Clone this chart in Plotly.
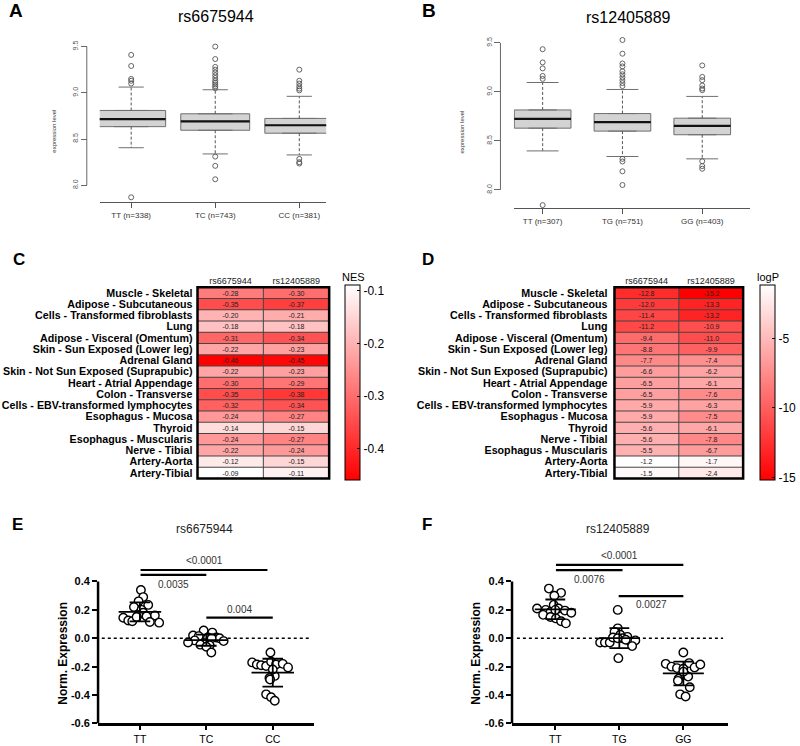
import plotly.graph_objects as go
import numpy as np

W, H = 800, 746

# ---------------- Panel A / B : box-plot summaries ----------------
A_title = "rs6675944"
A_labels = ["TT (n=338)", "TC (n=743)", "CC (n=381)"]
A_q1 = [8.634, 8.595, 8.563]
A_med = [8.716, 8.691, 8.649]
A_q3 = [8.809, 8.773, 8.723]
A_lo = [8.406, 8.339, 8.328]
A_hi = [9.062, 9.033, 8.962]
A_out = [
    [9.41, 9.29, 9.15, 9.13, 9.10, 7.87],
    [9.50, 9.365, 9.28, 9.25, 9.22, 9.19, 9.16, 9.13, 9.11, 9.09, 9.07, 9.05, 8.31, 8.21, 8.065],
    [9.25, 9.13, 9.10, 9.07, 9.045, 9.026, 8.285, 8.25, 8.235],
]

B_title = "rs12405889"
B_labels = ["TT (n=307)", "TG (n=751)", "GG (n=403)"]
B_q1 = [8.630, 8.600, 8.563]
B_med = [8.725, 8.691, 8.654]
B_q3 = [8.816, 8.779, 8.732]
B_lo = [8.398, 8.341, 8.317]
B_hi = [9.096, 9.025, 8.954]
B_out = [
    [9.436, 9.301, 9.240, 9.163, 9.133, 7.845],
    [9.53, 9.39, 9.29, 9.26, 9.21, 9.18, 9.15, 9.12, 9.09, 9.06, 8.317, 8.29, 8.19, 8.05],
    [9.27, 9.153, 9.12, 9.065, 9.035, 9.018, 8.293, 8.243, 8.216],
]

# ---------------- Panel C / D : heatmaps ----------------
snps = ["rs6675944", "rs12405889"]
C_tissues = ["Muscle - Skeletal", "Adipose - Subcutaneous", "Cells - Transformed fibroblasts", "Lung",
             "Adipose - Visceral (Omentum)", "Skin - Sun Exposed (Lower leg)", "Adrenal Gland",
             "Skin - Not Sun Exposed (Suprapubic)", "Heart - Atrial Appendage", "Colon - Transverse",
             "Cells - EBV-transformed lymphocytes", "Esophagus - Mucosa", "Thyroid",
             "Esophagus - Muscularis", "Nerve - Tibial", "Artery-Aorta", "Artery-Tibial"]
C_nes_rs6675944 = [-0.28, -0.35, -0.20, -0.18, -0.31, -0.22, -0.46, -0.22, -0.30, -0.35, -0.32,
                   -0.24, -0.14, -0.24, -0.22, -0.12, -0.09]
C_nes_rs12405889 = [-0.30, -0.37, -0.21, -0.18, -0.34, -0.23, -0.45, -0.23, -0.29, -0.38, -0.34,
                    -0.27, -0.15, -0.27, -0.24, -0.15, -0.11]
C_ticks = [-0.1, -0.2, -0.3, -0.4]

D_tissues = ["Muscle - Skeletal", "Adipose - Subcutaneous", "Cells - Transformed fibroblasts", "Lung",
             "Adipose - Visceral (Omentum)", "Skin - Sun Exposed (Lower leg)", "Adrenal Gland",
             "Skin - Not Sun Exposed (Suprapubic)", "Heart - Atrial Appendage", "Colon - Transverse",
             "Cells - EBV-transformed lymphocytes", "Esophagus - Mucosa", "Thyroid", "Nerve - Tibial",
             "Esophagus - Muscularis", "Artery-Aorta", "Artery-Tibial"]
D_logp_rs6675944 = [-12.8, -12.0, -11.4, -11.2, -9.4, -8.8, -7.7, -6.6, -6.5, -6.5, -5.9, -5.9,
                    -5.6, -5.6, -5.5, -1.2, -1.5]
D_logp_rs12405889 = [-15.2, -13.3, -13.2, -10.9, -11.0, -9.9, -7.4, -6.2, -6.1, -7.6, -6.3, -7.5,
                     -6.1, -7.8, -6.7, -1.7, -2.4]
D_ticks = [-5, -10, -15]

# ---------------- Panel E / F : dot plots ----------------
E_title = "rs6675944"
E_groups = ["TT", "TC", "CC"]
E_TT = [0.34, 0.29, 0.26, 0.235, 0.22, 0.20, 0.18, 0.165, 0.16, 0.155, 0.145, 0.125, 0.12, 0.115, 0.11, 0.15]
E_TT_dx = [0.015, 0.05, -0.02, 0.125, -0.09, 0.025, 0.05, -0.025, 0.225, 0.10, -0.25, -0.175, -0.115, 0.15, 0.29, -0.05]
E_TC = [0.055, 0.04, 0.02, 0.015, 0.005, 0.005, 0.0, 0.0, -0.015, -0.02, -0.03, -0.035, -0.045, -0.05, -0.06, -0.10]
E_TC_dx = [-0.04, 0.09, -0.2, -0.115, 0.025, 0.15, 0.2, 0.08, -0.175, 0.26, -0.275, -0.025, -0.09, 0.05, 0.0, 0.075]
E_CC = [-0.10, -0.17, -0.185, -0.19, -0.195, -0.165, -0.185, -0.18, -0.205, -0.265, -0.28, -0.395, -0.415, -0.44, -0.29, -0.22]
E_CC_dx = [-0.035, -0.31, -0.24, -0.175, -0.1, -0.025, 0.05, 0.15, 0.23, 0.03, -0.05, -0.1, -0.025, 0.03, -0.04, 0.0]
E_sig = [(0.01, 1.92, 0.481, "<0.0001", 0.545), (0.01, 1.0, 0.446, "0.0035", 0.376), (1.0, 2.0, 0.146, "0.004", 0.205)]

F_title = "rs12405889"
F_groups = ["TT", "TG", "GG"]
F_TT = [0.35, 0.32, 0.30, 0.235, 0.21, 0.21, 0.20, 0.195, 0.185, 0.18, 0.165, 0.15, 0.14, 0.12, 0.105, 0.20]
F_TT_dx = [-0.1, 0.09, -0.015, -0.025, -0.285, 0.05, -0.15, 0.15, -0.075, 0.25, -0.19, -0.075, 0.01, 0.09, 0.165, 0.0]
F_TG = [0.20, 0.07, 0.045, 0.025, 0.01, -0.03, -0.03, -0.03, 0.0, -0.025, -0.015, -0.055, -0.14, 0.005, -0.01, 0.0]
F_TG_dx = [-0.025, -0.025, -0.075, 0.015, 0.125, -0.3, -0.225, -0.15, 0.05, 0.175, 0.25, 0.2, -0.015, -0.1, 0.1, -0.025]
F_GG = [-0.10, -0.18, -0.20, -0.21, -0.175, -0.205, -0.185, -0.215, -0.285, -0.255, -0.27, -0.30, -0.345, -0.395, -0.41, -0.235]
F_GG_dx = [0.0, -0.275, -0.185, -0.1, 0.09, 0.175, 0.265, 0.0, -0.075, 0.025, 0.075, -0.085, 0.1, -0.05, 0.035, 0.0]
F_sig = [(0.01, 2.0, 0.517, "<0.0001", 0.583), (0.01, 1.05, 0.48, "0.0076", 0.417), (0.99, 2.0, 0.297, "0.0027", 0.237)]

EF_yticks = [-0.6, -0.4, -0.2, 0.0, 0.2, 0.4]
EF_yrange = [-0.6, 0.62]

FONT = "Liberation Sans, Arial, sans-serif"


def dx(a, b):
    return [a / W, b / W]


def dy(top, bottom):
    return [1 - bottom / H, 1 - top / H]


fig = go.Figure()
shapes = []
annotations = []


def ann(text, x, y, size, bold=False, color="black", angle=0, xref="paper", yref="paper"):
    if xref == "paper":
        x = x / W
    if yref == "paper":
        y = 1 - y / H
    annotations.append(dict(text=text, x=x, y=y, xref=xref, yref=yref, showarrow=False,
                            xanchor="center", yanchor="middle", textangle=angle,
                            font=dict(size=size, color=color, family=FONT, weight="bold" if bold else "normal")))


# ---------- box panels ----------
def box_panel(ax, q1, med, q3, lo, hi, outs, bw, cw):
    xa, ya = "x" + ax, "y" + ax
    pos = [1, 2, 3]
    fig.add_trace(go.Box(x=pos, q1=q1, median=med, q3=q3, lowerfence=q1, upperfence=q3,
                         width=bw, fillcolor="#d3d3d3", line=dict(color="#6f6f6f", width=1),
                         boxpoints=False, xaxis=xa, yaxis=ya, showlegend=False, hoverinfo="skip"))
    wx, wy, cx, cy, mx, my = [], [], [], [], [], []
    for p, a, m, b, l, h in zip(pos, q1, med, q3, lo, hi):
        wx += [p, p, None, p, p, None]
        wy += [b, h, None, a, l, None]
        cx += [p - cw, p + cw, None, p - cw, p + cw, None]
        cy += [h, h, None, l, l, None]
        mx += [p - bw / 2, p + bw / 2, None]
        my += [m, m, None]
    fig.add_trace(go.Scatter(x=wx, y=wy, mode="lines", line=dict(color="#555", width=1, dash="3px,2px"),
                             xaxis=xa, yaxis=ya, showlegend=False, hoverinfo="skip"))
    fig.add_trace(go.Scatter(x=cx, y=cy, mode="lines", line=dict(color="#6f6f6f", width=1),
                             xaxis=xa, yaxis=ya, showlegend=False, hoverinfo="skip"))
    fig.add_trace(go.Scatter(x=mx, y=my, mode="lines", line=dict(color="#111", width=2.2),
                             xaxis=xa, yaxis=ya, showlegend=False, hoverinfo="skip"))
    ox, oy = [], []
    for p, o in zip(pos, outs):
        ox += [p] * len(o)
        oy += o
    fig.add_trace(go.Scatter(x=ox, y=oy, mode="markers", cliponaxis=False,
                             marker=dict(symbol="circle-open", size=5, color="#555", line=dict(width=0.9)),
                             xaxis=xa, yaxis=ya, showlegend=False, hoverinfo="skip"))


box_panel("", A_q1, A_med, A_q3, A_lo, A_hi, A_out, 0.82, 0.15)
box_panel("2", B_q1, B_med, B_q3, B_lo, B_hi, B_out, 0.71, 0.2)

# y-axis lines (R style: only between first and last tick)
shapes.append(dict(type="line", xref="paper", yref="y", x0=87 / W, x1=87 / W, y0=8.0, y1=9.5,
                   line=dict(color="#666", width=1)))
shapes.append(dict(type="line", xref="paper", yref="y2", x0=501.7 / W, x1=501.7 / W, y0=8.0, y1=9.5,
                   line=dict(color="#666", width=1)))


def box_axes(dom_x, xr, dom_y, yr, pos, labels):
    xa = dict(domain=dom_x, range=xr, tickvals=[1, 2, 3], ticktext=labels, showline=True,
              linecolor="#555", linewidth=1, ticks="outside", ticklen=5, tickcolor="#555",
              showgrid=False, zeroline=False, tickfont=dict(size=8, color="#333", family=FONT))
    ya = dict(domain=dom_y, range=yr, anchor="free", position=pos, tickvals=[8.0, 8.5, 9.0, 9.5],
              ticktext=["8.0", "8.5", "9.0", "9.5"], tickangle=-90, ticks="outside", ticklen=6,
              tickcolor="#666", showline=False, showgrid=False, zeroline=False,
              tickfont=dict(size=7, color="#555", family=FONT))
    return xa, ya


xa1, ya1 = box_axes(dx(100, 327), [0.626, 3.32], dy(39, 203), [7.818, 9.575], 87 / W, A_labels)
xa2, ya2 = box_axes(dx(515, 752), [0.6375, 3.6], dy(35, 209), [7.815, 9.574], 501.7 / W, B_labels)
xa1["anchor"] = "y"
xa2["anchor"] = "y2"

ann("A", 16, 10, 19, bold=True)
ann("B", 430, 10, 19, bold=True)
ann(A_title, 217, 16, 16)
ann(B_title, 630, 16.5, 16)
ann("expression level", 54, 131, 6, color="#333", angle=-90)
ann("expression level", 463, 132, 6, color="#333", angle=-90)


# ---------- heatmaps ----------
def heat(ax, tissues, v1, v2, zmin, zmax, fmt, cbx, ticks, tick_text):
    z = [[a, b] for a, b in zip(v1, v2)]
    txt = [[fmt.format(a), fmt.format(b)] for a, b in zip(v1, v2)]
    fig.add_trace(go.Heatmap(
        z=z, x=snps, y=tissues, text=txt, texttemplate="%{text}",
        textfont=dict(size=7, color="#222", family=FONT),
        colorscale=[[0, "#ff0000"], [1, "#ffffff"]], zmin=zmin, zmax=zmax,
        xaxis="x" + ax, yaxis="y" + ax, hoverinfo="skip",
        colorbar=dict(x=cbx / W, xanchor="left", y=1 - 385.5 / H, yanchor="middle",
                      len=195, lenmode="pixels", thickness=14.5, thicknessmode="pixels",
                      outlinecolor="black", outlinewidth=1, xpad=0, ypad=0,
                      tickvals=ticks, ticktext=tick_text, ticks="inside", ticklen=3,
                      tickcolor="black", tickfont=dict(size=12, color="black", family=FONT))))
    n = len(tissues)
    for i in range(n - 1):
        shapes.append(dict(type="line", xref="x" + ax + " domain", yref="y" + ax, x0=0, x1=1,
                           y0=i + 0.5, y1=i + 0.5, line=dict(color="#444", width=1)))
    shapes.append(dict(type="line", xref="x" + ax, yref="y" + ax + " domain", x0=0.5, x1=0.5,
                       y0=0, y1=1, line=dict(color="#444", width=1)))
    shapes.append(dict(type="rect", xref="x" + ax + " domain", yref="y" + ax + " domain", x0=0, x1=1,
                       y0=0, y1=1, line=dict(color="black", width=2.5)))


heat("3", C_tissues, C_nes_rs6675944, C_nes_rs12405889, -0.46, -0.09, "{:.2f}", 345.7,
     C_ticks, ["-0.1", "-0.2", "-0.3", "-0.4"])
heat("4", D_tissues, D_logp_rs6675944, D_logp_rs12405889, -15.2, -1.2, "{:.1f}", 762,
     D_ticks, ["-5", "-10", "-15"])


def heat_axes(dom_x, tissues, ax, standoff):
    n = len(tissues)
    xa = dict(domain=dom_x, side="top", range=[-0.5, 1.5], showgrid=False, zeroline=False, ticks="",
              tickfont=dict(size=9, color="#222", family=FONT), anchor="y" + ax, showline=False)
    ya = dict(domain=dy(289, 482), range=[n - 0.5, -0.5], showgrid=False, zeroline=False, ticks="",
              tickmode="array", tickvals=list(range(n)), ticktext=tissues, ticklabelstandoff=standoff,
              tickfont=dict(size=10.7, color="black", family=FONT, weight="bold"), anchor="x" + ax,
              showline=False)
    return xa, ya


xa3, ya3 = heat_axes(dx(198, 330), C_tissues, "3", 4)
xa4, ya4 = heat_axes(dx(616, 745), D_tissues, "4", 6)

ann("C", 19, 261, 17, bold=True)
ann("D", 429, 261, 17, bold=True)
ann("NES", 354, 278.7, 11)
ann("logP", 770, 278.7, 11)


# ---------- dot plots ----------
def dot_panel(ax, groups, dxs, sig, zero_x):
    xa, ya = "x" + ax, "y" + ax
    fig.add_trace(go.Scatter(x=zero_x, y=[0, 0], mode="lines", line=dict(color="black", width=1.3, dash="dot"),
                             xaxis=xa, yaxis=ya, showlegend=False, hoverinfo="skip", cliponaxis=False))
    for i, (vals, d) in enumerate(zip(groups, dxs)):
        fig.add_trace(go.Scatter(x=[i + o for o in d], y=vals, mode="markers", cliponaxis=False,
                                 marker=dict(symbol="circle", size=8.5, color="white",
                                             line=dict(color="black", width=1.4)),
                                 xaxis=xa, yaxis=ya, showlegend=False, hoverinfo="skip"))
    lx, ly = [], []
    for i, vals in enumerate(groups):
        m = float(np.mean(vals))
        s = float(np.std(vals, ddof=1))
        lx += [i - 0.32, i + 0.32, None, i, i, None, i - 0.155, i + 0.155, None, i - 0.155, i + 0.155, None]
        ly += [m, m, None, m - s, m + s, None, m + s, m + s, None, m - s, m - s, None]
    fig.add_trace(go.Scatter(x=lx, y=ly, mode="lines", line=dict(color="black", width=1.8),
                             xaxis=xa, yaxis=ya, showlegend=False, hoverinfo="skip", cliponaxis=False))
    sx, sy = [], []
    for x0, x1, y, lab, ty in sig:
        sx += [x0, x1, None]
        sy += [y, y, None]
        ann(lab, (x0 + x1) / 2, ty, 10, color="#333", xref=xa, yref=ya)
    fig.add_trace(go.Scatter(x=sx, y=sy, mode="lines", line=dict(color="black", width=2.2),
                             xaxis=xa, yaxis=ya, showlegend=False, hoverinfo="skip", cliponaxis=False))
    # y-axis line only from the lowest to the highest tick (Prism style)
    shapes.append(dict(type="line", xref=xa + " domain", yref=ya, x0=0, x1=0,
                       y0=EF_yticks[0], y1=EF_yticks[-1], line=dict(color="black", width=2.5)))


dot_panel("5", [E_TT, E_TC, E_CC], [E_TT_dx, E_TC_dx, E_CC_dx], E_sig, [-0.574, 2.55])
dot_panel("6", [F_TT, F_TG, F_GG], [F_TT_dx, F_TG_dx, F_GG_dx], F_sig, [-0.6, 2.62])

# y=0 at 643.3 px, 143.3 px per unit
EF_top_px = 643.3 - EF_yrange[1] * 143.3


def dot_axes(dom_x, xr, labels, ax):
    xa = dict(domain=dom_x, range=xr, tickvals=[0, 1, 2], ticktext=labels, showline=True,
              linecolor="black", linewidth=2.5, ticks="outside", ticklen=4, tickwidth=2,
              tickcolor="black", showgrid=False, zeroline=False, anchor="y" + ax,
              tickfont=dict(size=10.5, color="black", family=FONT))
    ya = dict(domain=dy(EF_top_px, 729.3), range=EF_yrange, tickvals=EF_yticks,
              ticktext=["-0.6", "-0.4", "-0.2", "0.0", "0.2", "0.4"], showline=False,
              ticks="outside", ticklen=5, tickwidth=2.2, tickcolor="black",
              showgrid=False, zeroline=False, anchor="x" + ax,
              tickfont=dict(size=11, color="black", family=FONT, weight="bold"))
    return xa, ya


xa5, ya5 = dot_axes(dx(98.3, 315), [-0.63, 2.624], E_groups, "5")
xa6, ya6 = dot_axes(dx(513.3, 730), [-0.676, 2.70], F_groups, "6")

ann("E", 18, 528, 17, bold=True)
ann("F", 428, 528, 17, bold=True)
ann(E_title, 205, 533, 12, color="#222")
ann(F_title, 620, 533, 12, color="#222")
ann("Norm. Expression", 63, 658, 12, bold=True, angle=-90)
ann("Norm. Expression", 477, 658, 12, bold=True, angle=-90)

fig.update_layout(
    width=W, height=H, margin=dict(l=0, r=0, t=0, b=0), autosize=False,
    paper_bgcolor="white", plot_bgcolor="white", showlegend=False,
    font=dict(family=FONT, color="black"),
    xaxis=xa1, yaxis=ya1, xaxis2=xa2, yaxis2=ya2,
    xaxis3=xa3, yaxis3=ya3, xaxis4=xa4, yaxis4=ya4,
    xaxis5=xa5, yaxis5=ya5, xaxis6=xa6, yaxis6=ya6,
    shapes=shapes, annotations=annotations,
)

fig.write_html("out.html", config={"displayModeBar": False},
               post_script="document.body.style.margin='0px';document.body.style.overflow='hidden';")
